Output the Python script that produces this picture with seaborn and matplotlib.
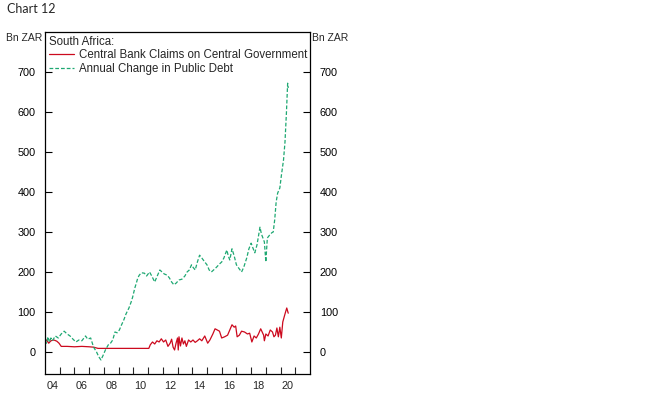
import pandas as pd
import matplotlib
matplotlib.use("Agg")
import matplotlib.pyplot as plt
import seaborn as sns

# South Africa, Bn ZAR (decimal years)
claims_years = [2004.0, 2004.1, 2004.25, 2004.4, 2004.6, 2004.8, 2004.95, 2005.1, 2005.5, 2006.0,
                2006.5, 2007.0, 2007.3, 2007.6, 2008.0, 2009.0, 2010.0, 2011.05, 2011.15, 2011.3,
                2011.45, 2011.6, 2011.75, 2011.9, 2012.05, 2012.2, 2012.35, 2012.5, 2012.6, 2012.7,
                2012.8, 2012.9, 2013.0, 2013.05, 2013.1, 2013.2, 2013.3, 2013.4, 2013.5, 2013.6,
                2013.75, 2013.9, 2014.05, 2014.2, 2014.35, 2014.5, 2014.65, 2014.85, 2015.05, 2015.2,
                2015.4, 2015.55, 2015.7, 2015.85, 2016.0, 2016.2, 2016.4, 2016.55, 2016.7, 2016.85,
                2016.95, 2017.05, 2017.2, 2017.35, 2017.55, 2017.75, 2017.9, 2018.05, 2018.2, 2018.35,
                2018.5, 2018.65, 2018.75, 2018.85, 2018.9, 2019.0, 2019.15, 2019.3, 2019.45, 2019.55,
                2019.65, 2019.75, 2019.85, 2019.95, 2020.05, 2020.15, 2020.3, 2020.42, 2020.52]
claims_values = [25, 30, 22, 28, 30, 27, 22, 14, 14, 13,
                 14, 13, 12, 9, 9, 9, 9, 9, 18, 25,
                 20, 28, 25, 33, 25, 30, 14, 22, 32, 12,
                 5, 22, 35, 5, 38, 15, 35, 20, 28, 14,
                 30, 25, 30, 24, 28, 33, 28, 40, 22, 30,
                 45, 58, 55, 52, 35, 38, 42, 55, 68, 62,
                 65, 38, 42, 52, 50, 45, 47, 25, 40, 35,
                 45, 58, 50, 42, 28, 45, 40, 55, 50, 38,
                 42, 60, 38, 62, 35, 75, 95, 110, 97]

debt_years = [2004.0, 2004.1, 2004.2, 2004.3, 2004.4, 2004.5, 2004.7, 2004.9, 2005.1, 2005.3,
              2005.5, 2005.7, 2005.9, 2006.1, 2006.3, 2006.5, 2006.75, 2006.9, 2007.1, 2007.3,
              2007.5, 2007.65, 2007.8, 2007.95, 2008.1, 2008.3, 2008.45, 2008.6, 2008.75, 2008.9,
              2009.05, 2009.2, 2009.35, 2009.5, 2009.7, 2009.85, 2009.95, 2010.1, 2010.2, 2010.3,
              2010.4, 2010.55, 2010.75, 2010.9, 2011.1, 2011.25, 2011.45, 2011.6, 2011.8, 2011.95,
              2012.1, 2012.3, 2012.45, 2012.6, 2012.75, 2012.9, 2013.1, 2013.3, 2013.5, 2013.65,
              2013.8, 2013.95, 2014.05, 2014.2, 2014.35, 2014.5, 2014.65, 2014.85, 2015.0, 2015.15,
              2015.3, 2015.45, 2015.65, 2015.85, 2016.0, 2016.15, 2016.35, 2016.45, 2016.55, 2016.7,
              2016.85, 2017.0, 2017.15, 2017.35, 2017.5, 2017.7, 2017.85, 2018.0, 2018.1, 2018.25,
              2018.4, 2018.5, 2018.6, 2018.7, 2018.8, 2018.9, 2019.0, 2019.1, 2019.25, 2019.4,
              2019.5, 2019.6, 2019.7, 2019.8, 2019.95, 2020.05, 2020.2, 2020.3, 2020.4, 2020.48,
              2020.52]
debt_values = [30, 22, 38, 25, 35, 28, 40, 35, 45, 52,
               45, 40, 32, 25, 30, 28, 40, 32, 35, 12,
               0, -12, -20, -8, 5, 18, 22, 30, 50, 48,
               55, 68, 80, 95, 110, 125, 137, 160, 172, 185,
               192, 198, 197, 190, 200, 190, 175, 188, 205, 200,
               195, 192, 185, 175, 168, 172, 180, 182, 190, 200,
               205, 218, 212, 205, 225, 242, 235, 225, 218, 205,
               200, 205, 212, 220, 225, 235, 255, 240, 230, 258,
               240, 218, 210, 200, 212, 235, 258, 272, 262, 248,
               268, 290, 312, 295, 285, 275, 225, 285, 292, 298,
               300, 330, 375, 397, 410, 440, 480, 525, 600, 672,
               660]

y_ticks = [0, 100, 200, 300, 400, 500, 600, 700]
x_label_years = [2004, 2006, 2008, 2010, 2012, 2014, 2016, 2018, 2020]

claims = pd.DataFrame({"year": claims_years, "value": claims_values})
debt = pd.DataFrame({"year": debt_years, "value": debt_values})

sns.set_style("white")
plt.rcParams['font.family'] = ['Liberation Sans', 'DejaVu Sans']

fig = plt.figure(figsize=(6.69, 4.03), dpi=100)
ax = fig.add_axes([0.0673, 0.072, 0.3961, 0.8486])

sns.lineplot(data=claims, x="year", y="value", color="#cc0a1e", linewidth=0.9,
             label="Central Bank Claims on Central Government", ax=ax)
sns.lineplot(data=debt, x="year", y="value", color="#1ea872", linewidth=0.9,
             dashes=False, label="Annual Change in Public Debt", ax=ax)
ax.lines[1].set_dashes((3, 1.6))

ax.set_xlim(2004, 2022)
ax.set_ylim(-55, 800)
ax.set_xlabel("")
ax.set_ylabel("")

for s in ax.spines.values():
    s.set_color("black")
    s.set_linewidth(0.9)

# y ticks inside on both sides, labels on both sides
ax.set_yticks(y_ticks)
ax.tick_params(axis="y", which="major", direction="in", length=5, width=0.8,
               left=True, right=True, labelleft=True, labelright=True,
               labelsize=7.8, pad=7, colors="black")

# year boundaries as inner ticks, labels centred in mid-year
ax.set_xticks(range(2005, 2022), minor=True)
ax.set_xticks([y + 0.5 for y in x_label_years])
ax.set_xticklabels([str(y)[2:] for y in x_label_years])
ax.tick_params(axis="x", which="major", length=0, labelsize=7.8, pad=5)
ax.tick_params(axis="x", which="minor", direction="in", length=5, width=0.8, bottom=True)

leg = ax.legend(loc="upper left", bbox_to_anchor=(0.0, 1.0), title="South Africa:", frameon=False,
                fontsize=8.3, title_fontsize=8.3, handlelength=2.2, handletextpad=0.4,
                borderaxespad=0.1, borderpad=0.25, labelspacing=0.12)
leg._legend_box.align = "left"

fig.text(0.011, 0.977, "Chart 12", fontsize=9, family=["Lato", "DejaVu Sans"], va="center")
fig.text(0.009, 0.906, "Bn ZAR", fontsize=7.5, va="center")
fig.text(0.467, 0.906, "Bn ZAR", fontsize=7.5, va="center")

fig.savefig("out.png", dpi=100, facecolor="white")
